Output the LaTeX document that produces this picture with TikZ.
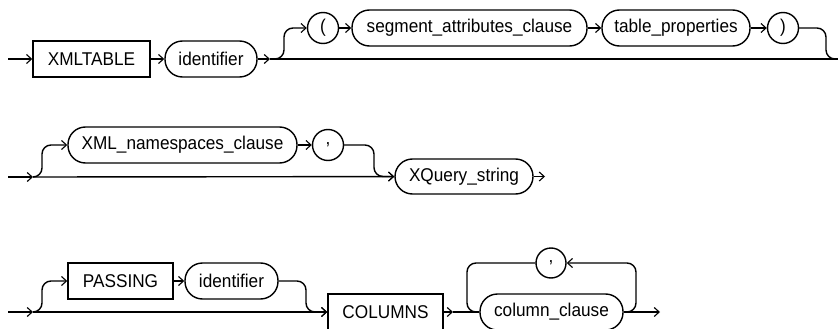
\documentclass[tikz,border=0pt]{standalone}
\usepackage{fontspec}
\setmainfont{Liberation Sans}[FakeStretch=0.93]
\usetikzlibrary{arrows.meta}
\begin{document}
\begin{tikzpicture}[x=1pt,y=-1pt,
  line width=1.4pt,
  font=\fontsize{18.5}{21}\selectfont,
  kw/.style={draw,rectangle,minimum height=36pt,inner sep=0pt},
  nt/.style={draw,rectangle,rounded corners=17.5pt,minimum height=36pt,inner sep=0pt},
  tm/.style={draw,circle,minimum size=31pt,inner sep=0pt},
  ar/.style={-{Straight Barb[length=5pt,width=9pt,line width=1.1pt]}},
  rc/.style={rounded corners=9pt}]
\useasboundingbox (0,0) rectangle (838,329);
% Row 1
\coordinate (s1) at (8,59);
\node[kw,minimum width=117pt] (xmltable) at (91.5,59) {XMLTABLE};
\node[nt,minimum width=92pt] (id1) at (211,59) {identifier};
\coordinate (j1) at (270,59);
\coordinate (e1) at (838,59);
\node[tm] (lp) at (323,28) {(};
\node[nt,minimum width=235pt] (seg) at (469.5,28) {segment\_attributes\_clause};
\node[nt,minimum width=148pt] (tp) at (676,28) {table\_properties};
\node[tm] (rp) at (783,28) {)};
\draw[ar] (s1) -- (xmltable);
\draw[ar] (xmltable) -- (id1);
\draw[ar] (id1) -- (j1);
\draw (j1) -- (e1);
\draw[ar,rc] (j1) -| (284,28) -- (lp);
\draw[ar] (lp) -- (seg);
\draw[ar] (seg) -- (tp);
\draw[ar] (tp) -- (rp);
\draw[rc] (rp) -| (826,59) -- (e1);
% Row 2
\coordinate (s2) at (8,177);
\coordinate (j2) at (33,177);
\node[nt,minimum width=229pt] (ns) at (182.5,145) {XML\_namespaces\_clause};
\node[tm] (cm1) at (328,145) {,};
\node[nt,minimum width=138pt,minimum height=35pt] (xq) at (464,176.5) {XQuery\_string};
\coordinate (e2) at (545,176.5);
\draw[ar] (s2) -- (j2);
\draw[ar] (j2) -- (xq);
\draw[ar,rc] (j2) -| (42,145) -- (ns);
\draw[ar] (ns) -- (cm1);
\draw[ar,rc] (cm1) -| (374,176.5) -- (xq);
\draw[ar] (xq) -- (e2);
% Row 3
\coordinate (s3) at (8,312);
\coordinate (j3) at (33,312);
\node[kw,minimum width=105pt] (passing) at (120.5,281) {PASSING};
\node[nt,minimum width=93pt] (id2) at (231.5,281) {identifier};
\node[kw,minimum width=115pt] (columns) at (385.5,312) {COLUMNS};
\coordinate (j4) at (453,312);
\node[nt,minimum width=143pt] (cc) at (551.5,312) {column\_clause};
\node[tm,minimum size=30pt] (cm2) at (551,263) {,};
\coordinate (e3) at (660,312);
\draw[ar] (s3) -- (j3);
\draw[ar] (j3) -- (columns);
\draw[ar,rc] (j3) -| (42,281) -- (passing);
\draw[ar] (passing) -- (id2);
\draw[ar,rc] (id2) -| (306,312) -- (columns);
\draw[ar] (columns) -- (j4);
\draw (j4) -- (cc);
\draw[ar,rc] (cc.east) -| (636,263) -- (cm2);
\draw[rc] (cm2) -| (467,312) -- (cc.west);
\draw[ar] (cc) -- (e3);
\end{tikzpicture}
\end{document}
